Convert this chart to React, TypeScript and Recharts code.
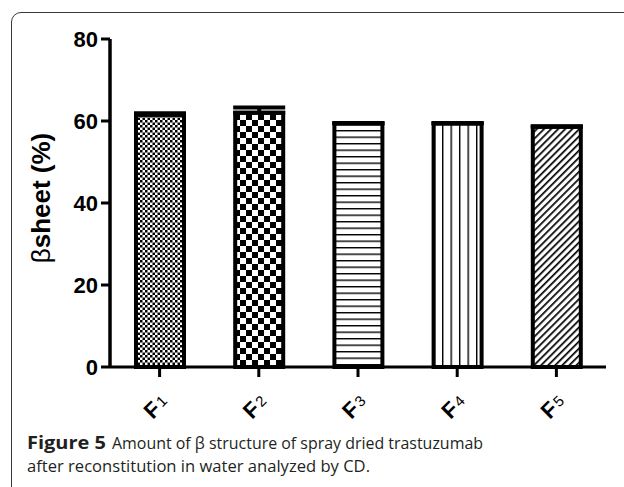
import React from 'react';
import { BarChart, Bar, XAxis, YAxis, Cell, ErrorBar } from 'recharts';

const categories = ['F1', 'F2', 'F3', 'F4', 'F5'];
const betaSheet = [61.5, 62.0, 59.4, 59.4, 58.6];
const errUpper = [0.4, 1.3, 0.1, 0.1, 0.1];
const yTicks = [0, 20, 40, 60, 80];
const patternIds = ['pF1', 'pF2', 'pF3', 'pF4', 'pF5'];

const data = categories.map((c, i) => ({ name: c, value: betaSheet[i], err: [0, errUpper[i]] }));

const XTick = (props: any) => {
  const { x, y, payload } = props;
  const s = String(payload.value);
  return (
    <g transform={`translate(${x - 4},${y + 27})`}>
      <text
        transform="rotate(-45)"
        textAnchor="middle"
        dominantBaseline="central"
        fontFamily="Arial, 'Liberation Sans', sans-serif"
        fontWeight="bold"
        fontSize={22}
        fill="#000"
      >
        <tspan>{s[0]}</tspan>
        <tspan fontSize={15} fontWeight="normal" dx={2}>{s.slice(1)}</tspan>
      </text>
    </g>
  );
};

const YLabel = (props: any) => {
  const vb = props.viewBox || { x: 0, y: 0, width: 0, height: 0 };
  const cx = vb.x + 41;
  const cy = vb.y + vb.height / 2 - 5;
  return (
    <text
      transform={`translate(${cx},${cy}) rotate(-90)`}
      textAnchor="middle"
      dominantBaseline="central"
      fontFamily="Arial, 'Liberation Sans', sans-serif"
      fontSize={26}
      fill="#000"
    >
      <tspan fontWeight="normal">β</tspan>
      <tspan fontWeight="bold">sheet (%)</tspan>
    </text>
  );
};

export default function App() {
  const capFont = "'Open Sans', 'Noto Sans', sans-serif";
  return (
    <div style={{ position: 'absolute', left: 0, top: 0, width: 624, height: 487, overflow: 'hidden', background: '#fff' }}>
      <div
        style={{
          position: 'absolute',
          left: 11,
          top: 12,
          width: 700,
          height: 600,
          border: '1.5px solid #3a3a3a',
          borderRadius: 10,
        }}
      />
      <svg width={0} height={0} style={{ position: 'absolute' }}>
        <defs>
          <pattern id="pF1" width={5} height={5} patternUnits="userSpaceOnUse">
            <rect width={5} height={5} fill="#fff" />
            <rect x={0} y={0} width={2.5} height={2.5} fill="#000" />
            <rect x={2.5} y={2.5} width={2.5} height={2.5} fill="#000" />
          </pattern>
          <pattern id="pF2" width={12} height={12} patternUnits="userSpaceOnUse">
            <rect width={12} height={12} fill="#fff" />
            <rect x={0} y={0} width={6} height={6} fill="#000" />
            <rect x={6} y={6} width={6} height={6} fill="#000" />
          </pattern>
          <pattern id="pF3" width={10} height={6.5} patternUnits="userSpaceOnUse">
            <rect width={10} height={6.5} fill="#fff" />
            <rect x={0} y={0} width={10} height={1.4} fill="#000" />
          </pattern>
          <pattern id="pF4" width={8.5} height={10} patternUnits="userSpaceOnUse">
            <rect width={8.5} height={10} fill="#fff" />
            <rect x={0} y={0} width={1.4} height={10} fill="#000" />
          </pattern>
          <pattern id="pF5" width={5} height={5} patternUnits="userSpaceOnUse" patternTransform="rotate(45)">
            <rect width={5} height={5} fill="#fff" />
            <rect x={0} y={0} width={1.7} height={5} fill="#000" />
          </pattern>
        </defs>
      </svg>
      <div style={{ position: 'absolute', left: 0, top: 0 }}>
        <BarChart
          width={624}
          height={487}
          data={data}
          margin={{ top: 39, right: 18, left: 0, bottom: 60 }}
          barSize={48}
        >
          <XAxis
            dataKey="name"
            height={60}
            axisLine={{ stroke: '#000', strokeWidth: 3 }}
            tickLine={{ stroke: '#000', strokeWidth: 3 }}
            tickSize={10}
            tick={<XTick />}
            interval={0}
          />
          <YAxis
            width={110}
            domain={[0, 80]}
            ticks={yTicks}
            interval={0}
            axisLine={{ stroke: '#000', strokeWidth: 3.5 }}
            tickLine={{ stroke: '#000', strokeWidth: 3 }}
            tickSize={9}
            tickMargin={3}
            tick={{ fill: '#000', fontSize: 22, fontWeight: 'bold', fontFamily: "Arial, 'Liberation Sans', sans-serif" }}
            label={<YLabel />}
          />
          <Bar dataKey="value" stroke="#000" strokeWidth={4} isAnimationActive={false}>
            {data.map((d, i) => (
              <Cell key={d.name} fill={`url(#${patternIds[i]})`} />
            ))}
            <ErrorBar dataKey="err" direction="y" width={26} stroke="#000" strokeWidth={4} isAnimationActive={false} />
          </Bar>
        </BarChart>
      </div>
      <svg width={624} height={487} style={{ position: 'absolute', left: 0, top: 0, pointerEvents: 'none' }}>
        <text x={27} y={449} fontFamily={capFont} fontSize={17} fill="#231f20">
          <tspan fontWeight="bold" textLength={79} lengthAdjust="spacingAndGlyphs">Figure 5</tspan>
          <tspan x={112} fontWeight={500} textLength={371} lengthAdjust="spacingAndGlyphs">Amount of β structure of spray dried trastuzumab</tspan>
        </text>
        <text x={27} y={472} textLength={343} lengthAdjust="spacingAndGlyphs" fontFamily={capFont} fontWeight={500} fontSize={17} fill="#231f20">
          after reconstitution in water analyzed by CD.
        </text>
      </svg>
    </div>
  );
}
